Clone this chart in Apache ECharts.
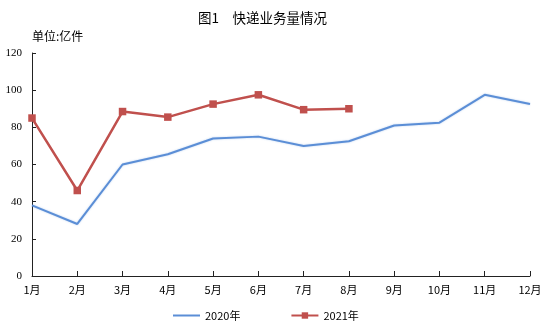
<!DOCTYPE html>
<html><head><meta charset="utf-8">
<script src="https://cdn.jsdelivr.net/npm/echarts@6/dist/echarts.min.js"></script>
<style>html,body{margin:0;padding:0;background:#fff}#c{width:545px;height:324px}</style>
</head><body><div id="c"></div>
<script>
const categories = ['1月','2月','3月','4月','5月','6月','7月','8月','9月','10月','11月','12月'];
const values2020 = [38, 28, 60, 65.5, 74, 75, 70, 72.5, 81, 82.5, 97.5, 92.5];
const values2021 = [85, 46, 88.5, 85.5, 92.5, 97.5, 89.5, 90];
const seriesNames = ['2020年', '2021年'];
const yTicks = [0, 20, 40, 60, 80, 100, 120];

const chart = echarts.init(document.getElementById('c'), null, {renderer: 'canvas'});
const cjk = '"Noto Sans CJK SC", sans-serif';
chart.setOption({
  animation: false,
  backgroundColor: '#fff',
  title: {
    text: '图1　快递业务量情况',
    left: 193, top: 6,
    textStyle: {fontFamily: cjk, fontSize: 13.5, fontWeight: 'normal', color: '#000'}
  },
  graphic: [{
    type: 'text', left: 32, top: 30,
    style: {text: '单位:亿件', fontFamily: cjk, fontSize: 12, fill: '#000'}
  }],
  legend: {
    data: [{name: seriesNames[0], itemStyle: {opacity: 0}}, {name: seriesNames[1]}],
    left: 167, top: 305,
    itemWidth: 27, itemHeight: 8, itemGap: 50,
    textStyle: {fontFamily: cjk, fontSize: 11, color: '#000'}
  },
  grid: {left: 32, right: 15, top: 53, bottom: 48, containLabel: false},
  xAxis: {
    type: 'category', data: categories, boundaryGap: false,
    axisLine: {lineStyle: {color: '#222', width: 1}},
    axisTick: {inside: true, length: 5, lineStyle: {color: '#222'}},
    axisLabel: {fontFamily: cjk, fontSize: 11, color: '#000', margin: 8}
  },
  yAxis: {
    type: 'value', min: yTicks[0], max: yTicks[yTicks.length-1], interval: 20,
    axisLine: {show: true, lineStyle: {color: '#222', width: 1}},
    axisTick: {show: true, inside: true, length: 4, lineStyle: {color: '#222'}},
    splitLine: {show: false},
    axisLabel: {fontFamily: '"Liberation Serif", serif', fontSize: 11, color: '#000', margin: 10}
  },
  series: [
    {
      name: seriesNames[0], type: 'line', data: values2020,
      symbol: 'none', color: '#5b8ed6',
      lineStyle: {width: 2, color: '#5b8ed6', shadowColor: 'rgba(91,142,214,0.4)', shadowBlur: 2}
    },
    {
      name: seriesNames[1], type: 'line', data: values2021,
      symbol: 'rect', symbolSize: 7.5, color: '#c0504d',
      lineStyle: {width: 2.5, color: '#c0504d'},
      itemStyle: {color: '#c0504d'}
    }
  ]
});
</script></body></html>
